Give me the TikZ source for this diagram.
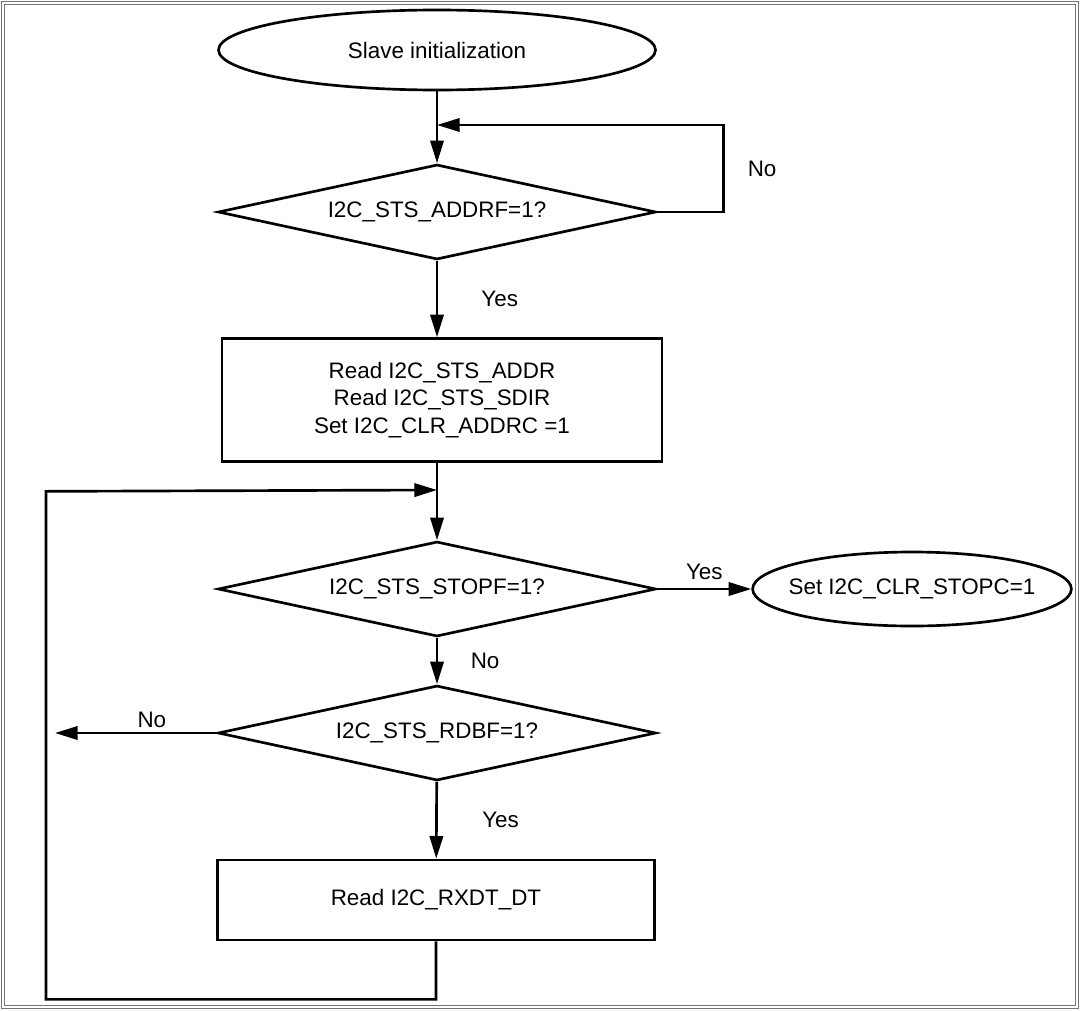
\documentclass[tikz,border=0pt]{standalone}
\usepackage{fontspec}
\setmainfont{Liberation Sans}
\usepackage{tikz}
\usetikzlibrary{shapes.geometric,arrows.meta}

\begin{document}
\begin{tikzpicture}[x=0.75pt, y=-0.75pt,
  every node/.style={font=\fontsize{16.8}{20.5}\selectfont},
  flow/.style={line width=2pt},
  arr/.style={flow, -{Triangle[length=17pt, width=10pt]}},
  term/.style={draw, flow, ellipse, inner sep=0pt},
  test/.style={draw, flow, diamond, shape aspect=4.6, inner sep=0pt,
    minimum width=438*0.75pt, minimum height=95*0.75pt},
  proc/.style={draw, flow, rectangle, align=center, inner sep=0pt}]

  \newcommand\W{0.75pt}

  \useasboundingbox (0,0) rectangle (1080,1010);
  \draw[black!55, double, double distance=1.2pt, line width=0.6pt]
  (3,3) rectangle (1077,1007); %% frame

  %% nodes
  \node[term, minimum width=437*\W, minimum height=80*\W]
  (start) at (437,50) {Slave initialization};
  \node[test] (addrf) at (437,212) {I2C\_STS\_ADDRF=1?};
  \node[proc, minimum width=440*\W, minimum height=123*\W]
  (rd) at (442,400) {Read I2C\_STS\_ADDR\\Read I2C\_STS\_SDIR\\Set I2C\_CLR\_ADDRC =1};
  \node[test] (stopf) at (437,589) {I2C\_STS\_STOPF=1?};
  \node[term, inner xsep=-8pt, minimum width=318*\W, minimum height=74*\W]
  (clr) at (912,589) {Set I2C\_CLR\_STOPC=1};
  \node[test] (rdbf) at (437,733) {I2C\_STS\_RDBF=1?};
  \node[proc, minimum width=437*\W, minimum height=80*\W]
  (rxdt) at (436,900) {Read I2C\_RXDT\_DT};

  \coordinate (joinA) at (437,125);
  \coordinate (joinB) at (437,490);
  \coordinate (noend) at (55,733);

  %% connectors
  \draw[arr] (start) -- (addrf);
  \draw[arr] (addrf.east) -- ++(66,0) |-
  node[pos=0.25, right=14pt]{No} (joinA); %% wait loop
  \draw[arr] (addrf.south) -- node[right=29pt]{Yes} (addrf.south |- rd.north);
  \draw[arr] (stopf.north |- rd.south) -- (stopf);
  \draw[arr] (stopf.east) -- node[above=3pt]{Yes} (clr.west);
  \draw[arr] (stopf) -- node[right=21pt]{No} (rdbf);
  \draw[arr] (rdbf.west) -- node[above, xshift=12pt]{No} (noend);
  \draw[arr] (rdbf) -- node[right=30pt]{Yes} (rxdt);
  \draw[arr] (rxdt.south) -- ++(0,58) -| ++(-390,-508) -- (joinB); %% back

\end{tikzpicture}
\end{document}
